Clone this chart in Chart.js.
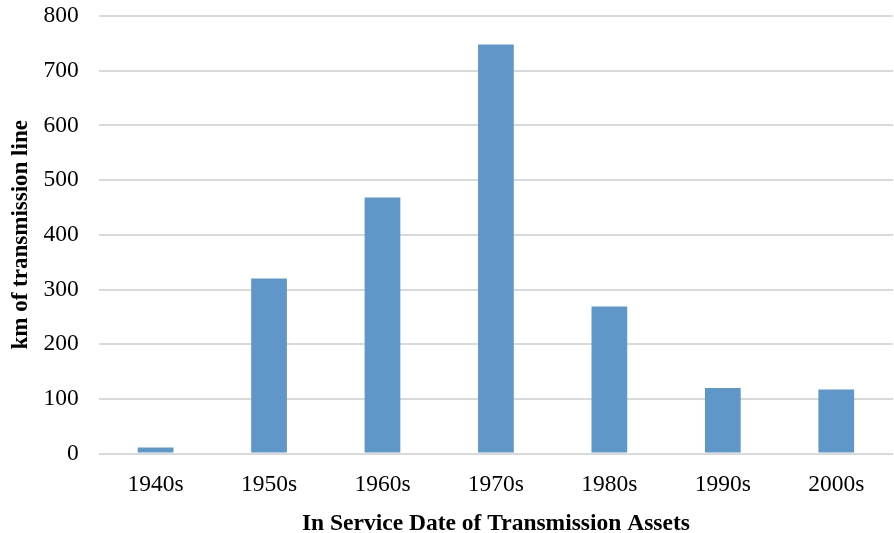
<!DOCTYPE html>
<html>
<head>
<meta charset="utf-8">
<script src="https://cdn.jsdelivr.net/npm/chart.js@4/dist/chart.umd.min.js"></script>
<style>
  html, body { margin: 0; padding: 0; background: #fff; }
  #wrap { width: 894px; height: 533px; }
</style>
</head>
<body>
<div id="wrap"><canvas id="chart"></canvas></div>
<script>
const decades = ["1940s", "1950s", "1960s", "1970s", "1980s", "1990s", "2000s"];
const kmLine = [11, 320, 468, 748, 269, 120, 117];
const yTicks = [0, 100, 200, 300, 400, 500, 600, 700, 800];

const serif = "'Liberation Serif', 'Times New Roman', serif";

new Chart(document.getElementById("chart"), {
  type: "bar",
  data: {
    labels: decades,
    datasets: [{
      label: "km of transmission line",
      data: kmLine,
      backgroundColor: "rgb(96,151,202)",
      barPercentage: 0.63,
      categoryPercentage: 0.5,
    }],
  },
  options: {
    responsive: true,
    maintainAspectRatio: false,
    animation: false,
    layout: { padding: { top: 0, right: 1, bottom: 0, left: 7 } },
    plugins: {
      legend: { display: false },
      tooltip: { enabled: false },
    },
    scales: {
      x: {
        grid: { display: false, drawTicks: false },
        border: { display: false },
        ticks: { color: "#000", font: { family: serif, size: 23.5 }, padding: 17 },
        title: {
          display: true,
          text: "In Service Date of Transmission Assets",
          color: "#000",
          font: { family: serif, size: 23.5, weight: "bold" },
          padding: { top: -6, bottom: -5 },
        },
      },
      y: {
        min: 0,
        max: 800,
        afterBuildTicks: (axis) => { axis.ticks = yTicks.map((v) => ({ value: v })); },
        afterFit: (axis) => { axis.paddingTop = 16; },
        grid: { color: "#d9d9d9", lineWidth: 2, drawTicks: false },
        border: { display: false },
        ticks: { color: "#000", font: { family: serif, size: 23.5 }, padding: 20 },
        title: {
          display: true,
          text: "km of transmission line",
          color: "#000",
          font: { family: serif, size: 23, weight: "bold" },
          padding: { top: 0, bottom: -11 },
        },
      },
    },
  },
});
</script>
</body>
</html>
